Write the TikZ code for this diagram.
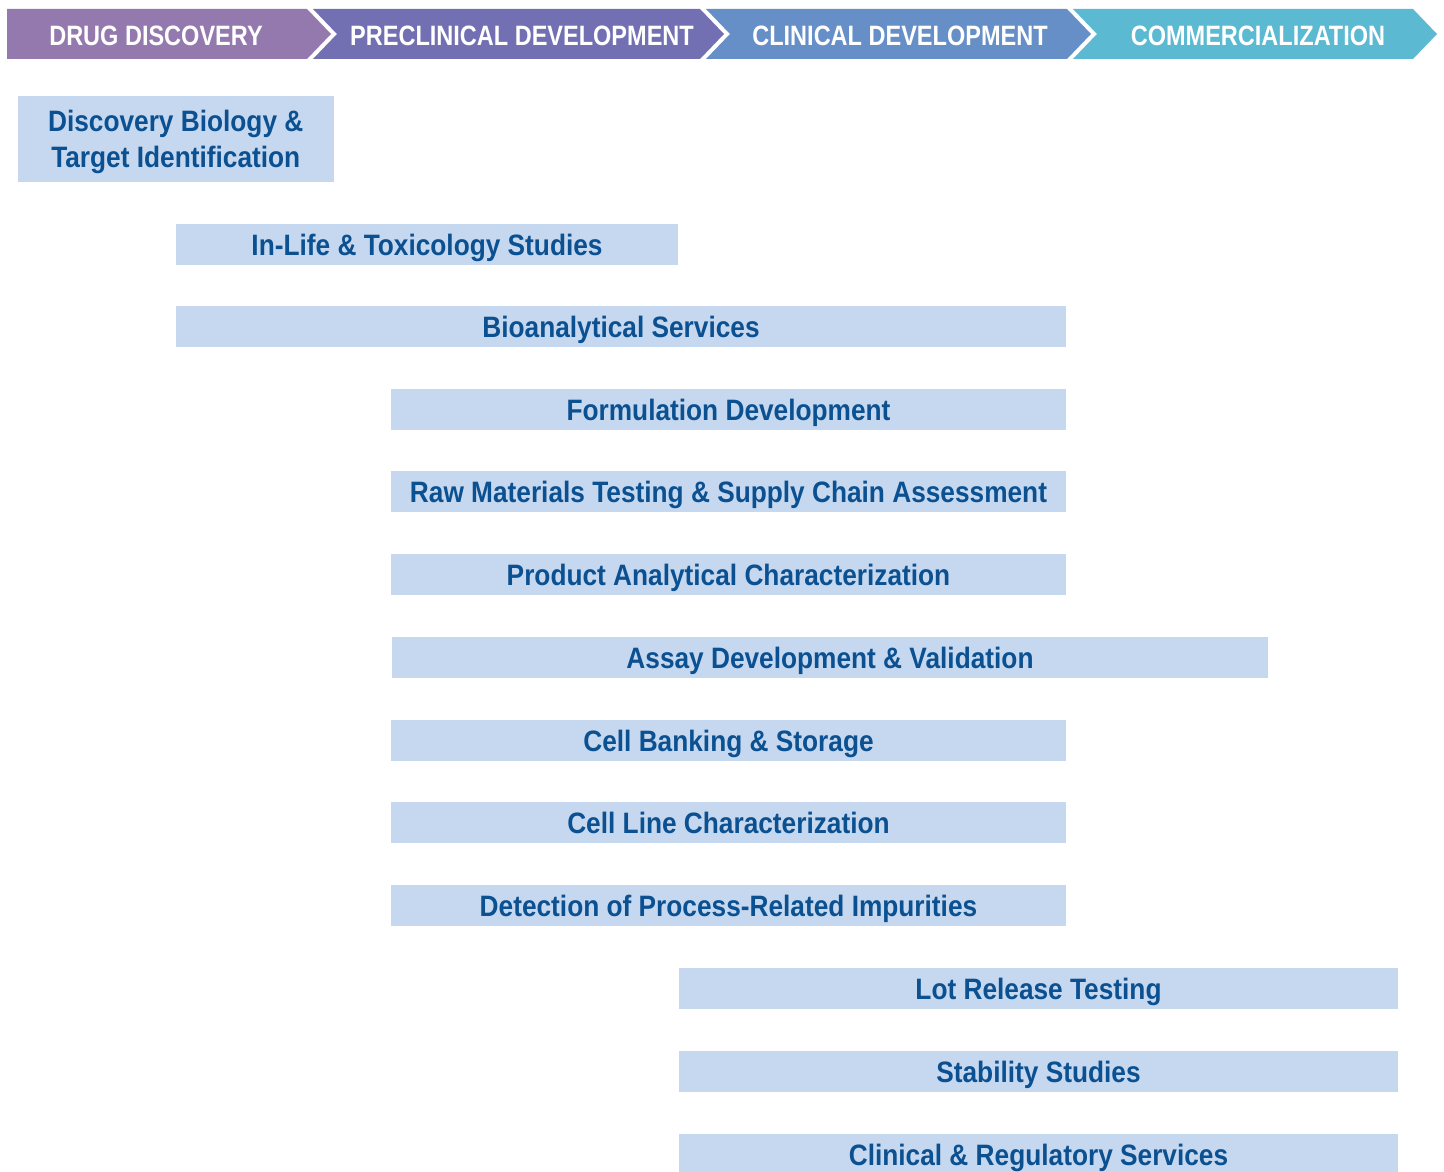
\documentclass[tikz,border=0pt]{standalone}
\usepackage{fontspec}
\usepackage{tikz}
\newfontfamily\phasefont[FakeStretch=0.84]{Liberation Sans}
\newfontfamily\servfont[FakeStretch=0.89]{Liberation Sans}
\definecolor{discovery}{RGB}{148,121,175}
\definecolor{preclin}{RGB}{114,112,178}
\definecolor{clinical}{RGB}{103,143,199}
\definecolor{commercial}{RGB}{91,185,210}
\definecolor{servfill}{RGB}{198,216,239}
\definecolor{servtext}{RGB}{11,80,145}

\begin{document}
\begin{tikzpicture}[x=1pt,y=-1pt,
    phase/.style={text=white,inner sep=0pt,text height=20pt,text depth=0pt,
        font=\phasefont\bfseries\fontsize{28}{32}\selectfont},
    service/.style={fill=servfill,text=servtext,inner sep=0pt,
        font=\servfont\bfseries\fontsize{29.5}{36}\selectfont},
    bar/.style={service,minimum height=41pt,text height=21pt,text depth=0pt}]
    \clip (0,0) rectangle (1444,1172);
    % phase chevrons
    \fill[discovery] (7,9) -- (307,9) -- (331,34) -- (307,59) -- (7,59) -- cycle;
    \fill[preclin] (313,9) -- (700,9) -- (724,34) -- (700,59) -- (313,59) -- (337,34) -- cycle;
    \fill[clinical] (706,9) -- (1067,9) -- (1091,34) -- (1067,59) -- (706,59) -- (730,34) -- cycle;
    \fill[commercial] (1073,9) -- (1413,9) -- (1437,34) -- (1413,59) -- (1073,59) -- (1097,34) -- cycle;
    \node[phase] (drug) at (156,35.7) {DRUG DISCOVERY};
    \node[phase] (precl) at (522,35.7) {PRECLINICAL DEVELOPMENT};
    \node[phase] (clin) at (900,35.7) {CLINICAL DEVELOPMENT};
    \node[phase] (comm) at (1258,35.7) {COMMERCIALIZATION};
    % services
    \node[service,minimum width=315.5pt,minimum height=86pt,align=center,text depth=0pt] (target) at (175.75,139) {Discovery Biology \&\\Target Identification};
    \node[bar,minimum width=502pt] (inlife) at (427,244.5) {In-Life \& Toxicology Studies};
    \node[bar,minimum width=890pt] (bioan) at (621,326.5) {Bioanalytical Services};
    \node[bar,minimum width=675pt] (formul) at (728.5,409.5) {Formulation Development};
    \node[bar,minimum width=675pt] (rawmat) at (728.5,491.5) {Raw Materials Testing \& Supply Chain Assessment};
    \node[bar,minimum width=675pt] (prodchar) at (728.5,574.5) {Product Analytical Characterization};
    \node[bar,minimum width=876pt] (assay) at (830,657.5) {Assay Development \& Validation};
    \node[bar,minimum width=675pt] (banking) at (728.5,740.5) {Cell Banking \& Storage};
    \node[bar,minimum width=675pt] (cellline) at (728.5,822.5) {Cell Line Characterization};
    \node[bar,minimum width=675pt] (impur) at (728.5,905.5) {Detection of Process-Related Impurities};
    \node[bar,minimum width=719pt] (lotrel) at (1038.5,988.5) {Lot Release Testing};
    \node[bar,minimum width=719pt] (stabil) at (1038.5,1071.5) {Stability Studies};
    \node[bar,minimum width=719pt] (regul) at (1038.5,1154.5) {Clinical \& Regulatory Services};
\end{tikzpicture}
\end{document}
